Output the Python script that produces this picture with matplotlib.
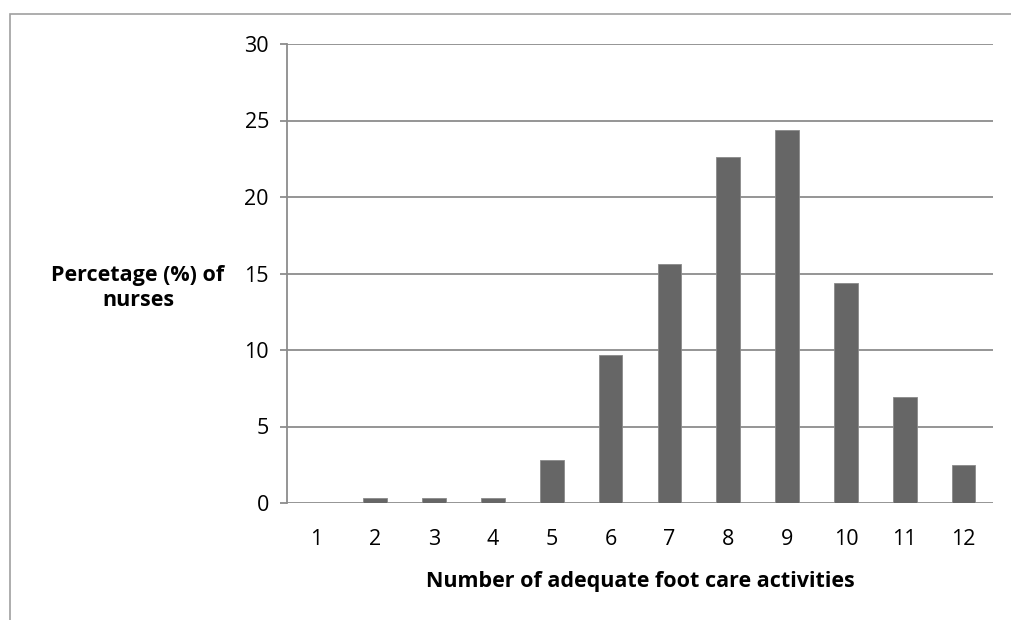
import matplotlib
matplotlib.use("Agg")
import matplotlib.pyplot as plt
from matplotlib.patches import Rectangle

categories = ["1", "2", "3", "4", "5", "6", "7", "8", "9", "10", "11", "12"]
values = [0.0, 0.3, 0.3, 0.3, 2.8, 9.7, 15.6, 22.6, 24.4, 14.4, 6.9, 2.5]
yticks = [0, 5, 10, 15, 20, 25, 30]

plt.rcParams['font.family'] = ['Open Sans', 'DejaVu Sans']

fig = plt.figure(figsize=(10.11, 6.2), dpi=100)
ax = fig.add_axes([287/1011, 1-503/620, (993-287)/1011, (503-44)/620])

x = list(range(len(categories)))
ax.bar(x, values, width=0.4, color="#666666", edgecolor="#8a8a8a", linewidth=0.6, zorder=3)

fs = 15.5
ax.set_xlim(-0.5, len(categories) - 0.5)
ax.set_ylim(0, 30)
ax.set_yticks(yticks)
ax.set_yticklabels([str(t) for t in yticks], fontsize=fs)
ax.set_xticks(x)
ax.set_xticklabels(categories, fontsize=fs)

ax.yaxis.grid(True, color="#8c8c8c", linewidth=1.3, zorder=0)
ax.set_axisbelow(True)
for s in ["top", "right", "bottom"]:
    ax.spines[s].set_visible(False)
ax.spines["left"].set_color("#8c8c8c")
ax.spines["left"].set_linewidth(1.3)
ax.tick_params(axis="y", length=5, width=1.3, color="#8c8c8c", pad=8)
ax.tick_params(axis="x", length=0, pad=19)

ax.set_xlabel("Number of adequate foot care activities", fontsize=fs, fontweight="bold", labelpad=15)
fig.text(138/1011, 1-288/620, "Percetage (%) of\nnurses", ha="center", va="center",
         fontsize=fs, fontweight="bold", linespacing=1.3)

fig.patches.append(Rectangle((10/1011, -0.1), 1.5, 1 - 14/620 + 0.1, transform=fig.transFigure,
                             fill=False, edgecolor="#a0a0a0", linewidth=1.2))

fig.savefig("out.png", dpi=100, facecolor="white")
